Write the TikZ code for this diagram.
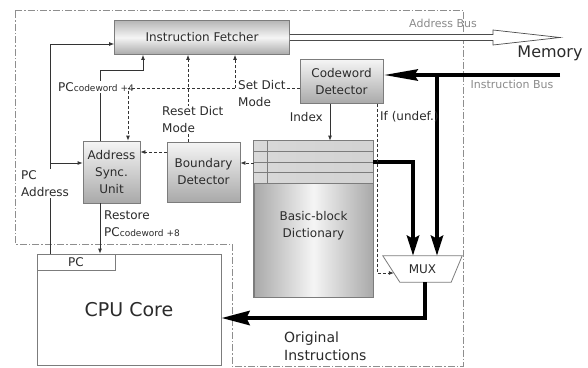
\documentclass[tikz,border=0pt]{standalone}
\usepackage{fontspec}
\setmainfont{DejaVu Sans}
\usetikzlibrary{arrows.meta, positioning, calc}
\definecolor{boxLine}{HTML}{7C7C7C}
\definecolor{boxDark}{HTML}{A9A9A9}
\definecolor{boxLight}{HTML}{F5F5F5}
\definecolor{wireGray}{HTML}{333333}
\definecolor{edgeGray}{HTML}{8E8E8E}
\definecolor{labelText}{HTML}{2B2B2B}
\definecolor{busText}{HTML}{8A8A8A}

\begin{document}
\begin{tikzpicture}[
  x=1pt, y=-1pt,
  font=\fontsize{12}{17}\selectfont,
  unit/.style   ={draw=boxLine, line width=0.8pt, align=center, text=labelText,
                  inner sep=1pt, top color=boxLight, bottom color=boxDark},
  fetcher/.style={unit, top color=boxDark!85, bottom color=boxDark, middle color=boxLight,
                  minimum width=175pt, minimum height=34pt},
  dict/.style   ={draw=boxLine, line width=0.8pt, left color=boxDark, right color=boxDark,
                  middle color=boxLight, minimum width=119pt, minimum height=156pt},
  plain/.style  ={draw=boxLine, line width=0.8pt, fill=white, text=labelText, inner sep=0pt},
  note/.style   ={text=labelText, align=left, inner sep=1pt, fill=white},
  busLbl/.style ={text=busText, font=\fontsize{11}{13}\selectfont, inner sep=1pt},
  wire/.style   ={-{Latex[length=5pt, width=4pt]}, draw=wireGray, line width=0.8pt},
  ctrl/.style   ={wire, dash pattern=on 3pt off 2pt},
  bus/.style    ={draw=black, line width=4.5pt},
  border/.style ={draw=edgeGray, line width=0.8pt,
                  dash pattern=on 7pt off 2pt on 1.5pt off 2pt},
]
\useasboundingbox (0,0) rectangle (588,367);

% ----- Decoder boundary -----
\draw[border] (15,10) -- (463,10) -- (463,366) -- (232,366) -- (232,244) -- (15,244) -- cycle;

% ----- Units -----
\node[fetcher] (IF) at (202,37.5) {Instruction Fetcher};
\node[unit, minimum width=83pt, minimum height=44pt] (CD) at (341.5,81.5) {Codeword\\Detector};
\node[unit, minimum width=57pt, minimum height=62pt] (ASU) at (111.5,172) {Address\\Sync.\\Unit};
\node[unit, minimum width=73pt, minimum height=60pt] (BD) at (203.5,172) {Boundary\\Detector};

% Dictionary with its table rows
\node[dict] (DICT) at (313.5,219) {};
\shade[left color=gray!30, middle color=white, right color=gray!35]
  ($(DICT.north west)+(0.4,0.4)$) rectangle ($(DICT.north east)+(-0.4,43)$);
\foreach \r in {11,22,32,43}
  \draw[boxLine, line width=0.8pt] ($(DICT.north west)+(0,\r)$) -- ($(DICT.north east)+(0,\r)$);
\draw[boxLine, line width=0.8pt] ($(DICT.north west)+(14,0)$) -- ($(DICT.north west)+(14,43)$);
\draw[boxLine, line width=0.8pt] (DICT.north west) rectangle (DICT.south east);
\node[text=labelText, align=center] (DICTTXT) at ($(DICT.center)+(0,7)$) {Basic-block\\Dictionary};

% Multiplexer
\node[minimum width=79pt, minimum height=26pt, inner sep=0pt, text=labelText] (MUX) at (422.5,269) {MUX};
\draw[boxLine, line width=0.8pt, fill=white] (MUX.north west) -- (MUX.north east)
  -- ([xshift=-11pt]MUX.south east) -- ([xshift=17pt]MUX.south west) -- cycle;
\node[text=labelText, inner sep=0pt] at (MUX.center) {MUX};

% CPU core and program counter
\node[plain, minimum width=184pt, minimum height=111pt, font=\fontsize{19}{19}\selectfont] (CPU) at (129,309.5) {CPU Core};
\node[plain, minimum width=78pt, minimum height=16pt] (PC) at (76,262) {PC};

% ----- Memory side -----
\coordinate (headBase) at (493,37.5);
\coordinate (memTip)   at (560,37.5);
\draw[black!70, line width=0.7pt, fill=white]
  ([yshift=3pt]IF.east) -- ([yshift=3pt]headBase) -- ([yshift=7.5pt]headBase) -- (memTip)
  -- ([yshift=-7.5pt]headBase) -- ([yshift=-3pt]headBase) -- ([yshift=-3pt]IF.east);
\node[busLbl] (ADDRLBL) at (443,23) {Address Bus};
\node[text=labelText, font=\fontsize{16}{16}\selectfont] (MEM) at (550,53) {Memory};
\node[busLbl] (INSLBL) at (512,84) {Instruction Bus};

% ----- Buses -----
\coordinate (busIn)    at (560,75);
\coordinate (busTap)   at (437,75);
\coordinate (dictBend) at (413,162);
\coordinate (outBend)  at (425,318);
\draw[bus, -{Stealth[length=34pt, width=11pt, inset=3pt]}] (busIn) -- (CD.east |- busIn);
\draw[bus, -{Stealth[length=20pt, width=12pt, inset=3pt]}] (busTap) -- (busTap |- MUX.north);
\draw[bus, -{Stealth[length=20pt, width=12pt, inset=3pt]}]
  (DICT.east |- dictBend) -- (dictBend) -- (dictBend |- MUX.north);
\draw[bus, -{Stealth[length=28pt, width=14pt, inset=3pt]}]
  (outBend |- MUX.south) -- (outBend) -- (CPU.east |- outBend);
\node[note, anchor=west, font=\fontsize{14}{18}\selectfont] (ORIGLBL) at (283,346) {Original\\Instructions};

% ----- Program counter paths -----
\coordinate (pcBend)  at (50,44);
\coordinate (pcTap)   at (50,163);
\coordinate (pc4Bend) at (143,70);
\draw[wire] (PC.north -| pcBend) -- (pcBend) -- (IF.west |- pcBend);
\draw[wire] (pcTap) -- (ASU.west |- pcTap);
\draw[wire] ([xshift=-11.5pt]ASU.north) |- (pc4Bend) -- (IF.south -| pc4Bend);
\draw[wire] ([xshift=-11.5pt]ASU.south) coordinate (rstTop) -- (rstTop |- PC.north);
\node[note, anchor=west] (PC4LBL) at (57,87) {PC{\fontsize{9}{9}\selectfont codeword +4}};
\node[note, anchor=west] (PCLBL) at (20,183.5) {PC\\Address};
\node[note, anchor=west] (RSTLBL) at (103,223.5) {Restore\\PC{\fontsize{9}{9}\selectfont codeword +8}};

% ----- Dictionary mode control -----
\coordinate (setTap)  at (235,88);
\coordinate (setBend) at (128,88);
\draw[ctrl] (CD.west |- setTap) -- (setBend) -- (ASU.north -| setBend);
\draw[ctrl] (setTap) -- (IF.south -| setTap);
\draw[ctrl] ([xshift=-15.5pt]BD.north) coordinate (rstFoot) -- (IF.south -| rstFoot);
\draw[ctrl] ([yshift=56pt]DICT.west) -- ([yshift=9pt]BD.east);
\draw[ctrl] ([yshift=20pt]BD.west) -- ([yshift=20pt]ASU.east);
\node[note, anchor=west] (SETLBL) at (237,93.5) {Set Dict\\Mode};
\node[note, anchor=west] (RESETLBL) at (161,120) {Reset Dict\\Mode};

% ----- Codeword detector outputs -----
\draw[wire] ([xshift=-11.5pt]CD.south) coordinate (idxTop) -- (idxTop |- DICT.north);
\draw[ctrl] ([xshift=35.5pt]CD.south) |- ([xshift=11pt, yshift=-4pt]MUX.west);
\node[note, anchor=east, fill=none] (IDXLBL) at (324,117) {Index};
\node[note, anchor=west, fill=none] (UNDEFLBL) at (379,117) {If (undef.)};

\end{tikzpicture}
\end{document}
